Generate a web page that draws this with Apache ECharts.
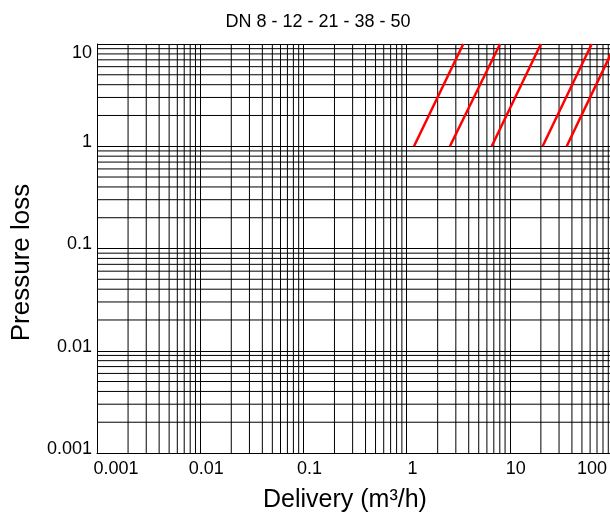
<!DOCTYPE html>
<html><head><meta charset="utf-8">
<script src="https://cdn.jsdelivr.net/npm/echarts@6/dist/echarts.min.js"></script>
<style>html,body{margin:0;padding:0;background:#fff}#c{width:610px;height:516px}</style>
</head><body><div id="c"></div>
<script>
const titleText = 'DN 8 - 12 - 21 - 38 - 50';
const xName = 'Delivery (m³/h)';
const yName = 'Pressure loss';
const xTickLabels = ['0.001', '0.01', '0.1', '1', '10', '100'];
const yTickLabels = ['0.001', '0.01', '0.1', '1', '10'];
const seriesNames = ['DN 8', 'DN 12', 'DN 21', 'DN 38', 'DN 50'];
const pressureEnds = [1, 10];
const dn8Delivery = [1.18, 3.54];
const dn12Delivery = [2.63, 8.04];
const dn21Delivery = [6.68, 20.0];
const dn38Delivery = [20.8, 62.2];
const dn50Delivery = [35.6, 106];
const minorMultipliers = [2, 3, 4, 5, 6, 7, 8, 9];

const FF = "'Liberation Sans', Arial, Helvetica, sans-serif";
const deliveries = [dn8Delivery, dn12Delivery, dn21Delivery, dn38Delivery, dn50Delivery];
const xDecades = xTickLabels.slice(0, -1).map(Number);
const yDecades = yTickLabels.slice(0, -1).map(Number);
const xMin = Number(xTickLabels[0]), xMax = Number(xTickLabels[xTickLabels.length - 1]);
const yMin = Number(yTickLabels[0]), yMax = Number(yTickLabels[yTickLabels.length - 1]);

// minor grid lines as broken line series (null separates segments)
const vMinor = [], hMinor = [];
xDecades.forEach(d => minorMultipliers.forEach(m => {
  const v = +(d * m).toPrecision(6);
  vMinor.push([v, yMin], [v, yMax], [v, null]);
}));
yDecades.forEach(d => minorMultipliers.forEach(m => {
  const v = +(d * m).toPrecision(6);
  hMinor.push([xMin, v], [xMax, v], [null, v]);
}));

const tickIdx = v => Math.round(Math.log10(v)) + 3;
const txt = { fontSize: 18, fontFamily: FF, color: '#000', lineHeight: 18 };
const gridLineSeries = (data) => ({
  type: 'line', data: data, z: 1, silent: true, symbol: 'none', connectNulls: false,
  clip: true, lineStyle: { color: '#000', width: 1 }, itemStyle: { color: '#000' },
  emphasis: { disabled: true }, tooltip: { show: false }
});

const chart = echarts.init(document.getElementById('c'), null, { renderer: 'canvas' });
chart.setOption({
  animation: false,
  backgroundColor: '#fff',
  title: {
    text: titleText, left: 318, top: 13, textAlign: 'center', padding: 0,
    textStyle: { fontSize: 18, fontWeight: 'normal', fontFamily: FF, color: '#000' }
  },
  grid: { left: 97, top: 44, right: -3, bottom: 63, containLabel: false, outerBoundsMode: 'none' },
  xAxis: {
    type: 'log', logBase: 10, min: xMin, max: xMax,
    name: xName, nameLocation: 'middle', nameGap: 35,
    nameTextStyle: { fontSize: 25, fontFamily: FF, color: '#000', padding: [0, 20, 0, 0] },
    axisLine: { show: true, lineStyle: { color: '#000', width: 1 } },
    axisTick: { show: false },
    splitLine: { show: true, lineStyle: { color: '#000', width: 1 } },
    axisLabel: {
      margin: 7, showMinLabel: true, showMaxLabel: true, hideOverlap: false,
      color: '#000', fontSize: 18, fontFamily: FF,
      formatter: v => {
        const i = tickIdx(v);
        const s = xTickLabels[i];
        if (i === 0) return '{f|' + s + '}';
        if (i === xTickLabels.length - 1) return '{l|' + s + '}';
        return '{m|' + s + '}';
      },
      rich: {
        f: Object.assign({ padding: [0, 0, 0, 38] }, txt),
        m: Object.assign({ padding: [0, 0, 0, 12] }, txt),
        l: Object.assign({ padding: [0, 42, 0, 0] }, txt)
      }
    }
  },
  yAxis: {
    type: 'log', logBase: 10, min: yMin, max: yMax,
    name: yName, nameLocation: 'middle', nameGap: 62,
    nameTextStyle: { fontSize: 26, fontFamily: FF, color: '#000', padding: [0, 28, 0, 0] },
    axisLine: { show: true, lineStyle: { color: '#000', width: 1 } },
    axisTick: { show: false },
    splitLine: { show: true, lineStyle: { color: '#000', width: 1 } },
    axisLabel: {
      margin: 5, showMinLabel: true, showMaxLabel: true, color: '#000', fontSize: 18, fontFamily: FF,
      verticalAlignMaxLabel: 'top',
      formatter: v => {
        const i = tickIdx(v);
        return i === yTickLabels.length - 1 ? '{t|' + yTickLabels[i] + '}' : '{a|' + yTickLabels[i] + '}';
      },
      rich: {
        a: Object.assign({ padding: [0, 0, 8, 0] }, txt),
        t: Object.assign({}, txt)
      }
    }
  },
  series: [gridLineSeries(vMinor), gridLineSeries(hMinor)].concat(deliveries.map((d, k) => ({
    type: 'line', name: seriesNames[k], z: 3, symbol: 'none', silent: true,
    lineStyle: { color: '#ff0000', width: 2.5 },
    itemStyle: { color: '#ff0000' },
    data: d.map((q, j) => [q, pressureEnds[j]])
  })))
});
</script></body></html>
